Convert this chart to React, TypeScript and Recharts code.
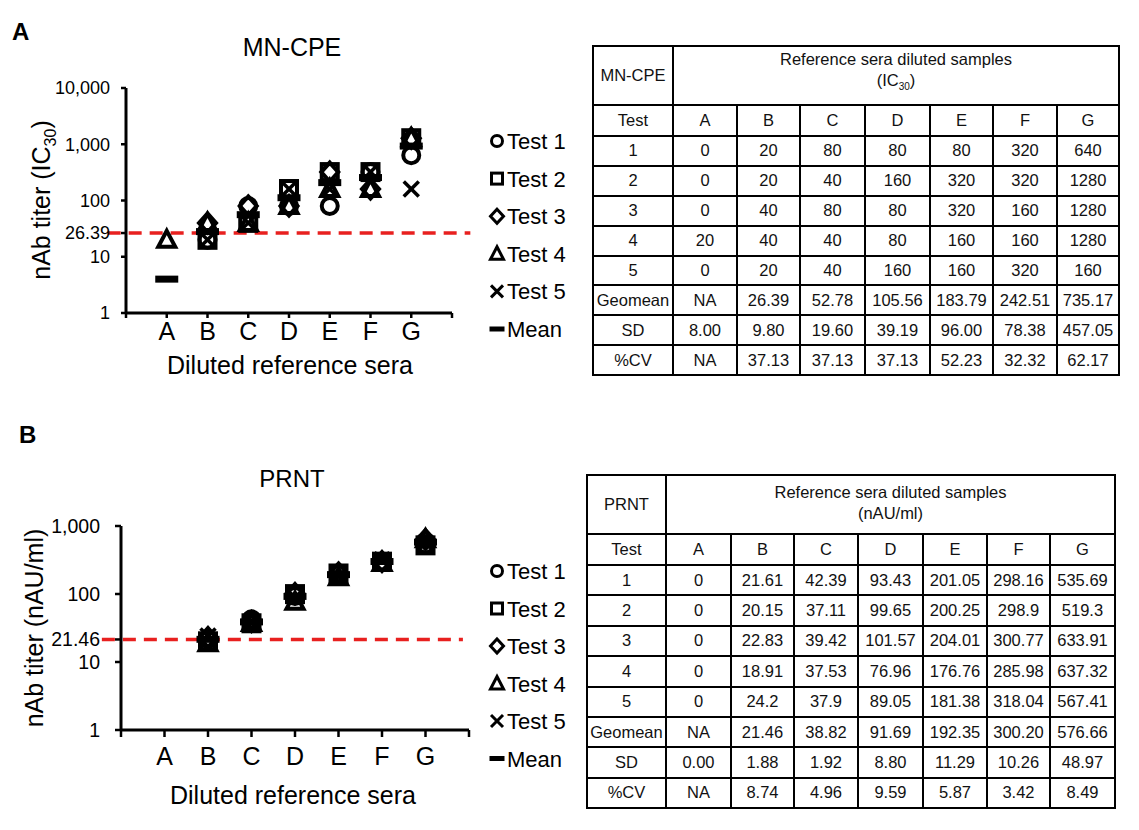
import React from 'react';
import { ScatterChart, Scatter, XAxis, YAxis, ReferenceLine } from 'recharts';

const categories = ['A', 'B', 'C', 'D', 'E', 'F', 'G'];
const legendNames = ['Test 1', 'Test 2', 'Test 3', 'Test 4', 'Test 5', 'Mean'];
const statNames = ['Geomean', 'SD', '%CV'];

// MN-CPE (IC30)
const mnTest1 = [0, 20, 80, 80, 80, 320, 640];
const mnTest2 = [0, 20, 40, 160, 320, 320, 1280];
const mnTest3 = [0, 40, 80, 80, 320, 160, 1280];
const mnTest4 = [20, 40, 40, 80, 160, 160, 1280];
const mnTest5 = [0, 20, 40, 160, 160, 320, 160];
const mnMean = [4, 28, 56, 112, 208, 256, 928];
const mnGeomean = ['NA', '26.39', '52.78', '105.56', '183.79', '242.51', '735.17'];
const mnSD = ['8.00', '9.80', '19.60', '39.19', '96.00', '78.38', '457.05'];
const mnCV = ['NA', '37.13', '37.13', '37.13', '52.23', '32.32', '62.17'];
const mnCutoff = 26.39;
const mnYTicks = [1, 10, 26.39, 100, 1000, 10000];

// PRNT (nAU/ml)
const prTest1 = [0, 21.61, 42.39, 93.43, 201.05, 298.16, 535.69];
const prTest2 = [0, 20.15, 37.11, 99.65, 200.25, 298.9, 519.3];
const prTest3 = [0, 22.83, 39.42, 101.57, 204.01, 300.77, 633.91];
const prTest4 = [0, 18.91, 37.53, 76.96, 176.76, 285.98, 637.32];
const prTest5 = [0, 24.2, 37.9, 89.05, 181.38, 318.04, 567.41];
const prMean = [0, 21.54, 38.87, 92.13, 192.69, 300.37, 578.73];
const prGeomean = ['NA', '21.46', '38.82', '91.69', '192.35', '300.20', '576.66'];
const prSD = ['0.00', '1.88', '1.92', '8.80', '11.29', '10.26', '48.97'];
const prCV = ['NA', '8.74', '4.96', '9.59', '5.87', '3.42', '8.49'];
const prCutoff = 21.46;
const prYTicks = [1, 10, 21.46, 100, 1000];

const FONT = '"Liberation Sans", Arial, Helvetica, sans-serif';
const RED = '#e8201f';

const toPoints = (vals: number[]) =>
  vals.map((v, i) => ({ x: i + 1, y: v })).filter((p) => p.y > 0);

const SW = 4;
const ShapeCircle = (p: any) => <circle cx={p.cx} cy={p.cy} r={8} fill="none" stroke="#000" strokeWidth={SW} />;
const ShapeSquare = (p: any) => <rect x={p.cx - 8} y={p.cy - 8} width={16} height={16} fill="none" stroke="#000" strokeWidth={SW} />;
const ShapeDiamond = (p: any) => (
  <polygon points={`${p.cx},${p.cy - 9.5} ${p.cx + 8.5},${p.cy} ${p.cx},${p.cy + 9.5} ${p.cx - 8.5},${p.cy}`} fill="none" stroke="#000" strokeWidth={SW} />
);
const ShapeTriangle = (p: any) => (
  <polygon points={`${p.cx},${p.cy - 9} ${p.cx + 8.5},${p.cy + 7} ${p.cx - 8.5},${p.cy + 7}`} fill="none" stroke="#000" strokeWidth={SW} strokeLinejoin="miter" />
);
const ShapeCross = (p: any) => (
  <g stroke="#000" strokeWidth={3.5}>
    <line x1={p.cx - 7.5} y1={p.cy - 7.5} x2={p.cx + 7.5} y2={p.cy + 7.5} />
    <line x1={p.cx - 7.5} y1={p.cy + 7.5} x2={p.cx + 7.5} y2={p.cy - 7.5} />
  </g>
);
const ShapeMean = (p: any) => <rect x={p.cx - 11.5} y={p.cy - 3.5} width={23} height={7} fill="#000" />;

const shapes = [ShapeCircle, ShapeSquare, ShapeDiamond, ShapeTriangle, ShapeCross, ShapeMean];

const fmtY = (v: number) => (v >= 1000 ? v.toLocaleString('en-US') : String(v));

type PanelProps = {
  top: number;
  series: number[][];
  yDomain: [number, number];
  yTicks: number[];
  cutoff: number;
  margin: { top: number; right: number; bottom: number; left: number };
  xTickSize: number;
  xTickMargin: number;
  yTickSize: number;
  yTickMargin: number;
  yFont: number;
  lineFrom: number;
  lineTo: number;
};

function Panel(props: PanelProps) {
  const { top, series, yDomain, yTicks, cutoff, margin } = props;
  return (
    <div style={{ position: 'absolute', left: 0, top }}>
      <ScatterChart width={560} height={400} margin={margin}>
        <XAxis
          type="number"
          dataKey="x"
          domain={[0, 8]}
          ticks={[0, 1, 2, 3, 4, 5, 6, 7, 8]}
          interval={0}
          allowDataOverflow
          tickFormatter={(v: number) => categories[v - 1] ?? ''}
          axisLine={{ stroke: '#000', strokeWidth: 3 }}
          tickLine={{ stroke: '#000', strokeWidth: 2.5 }}
          tickSize={props.xTickSize}
          tickMargin={props.xTickMargin}
          tick={{ fill: '#000', fontSize: 25 }}
          height={45}
        />
        <YAxis
          type="number"
          dataKey="y"
          scale="log"
          domain={yDomain}
          ticks={yTicks}
          interval={0}
          allowDataOverflow
          tickFormatter={fmtY}
          axisLine={{ stroke: '#000', strokeWidth: 3 }}
          tickLine={{ stroke: '#000', strokeWidth: 2.5 }}
          tickSize={props.yTickSize}
          tickMargin={props.yTickMargin}
          tick={{ fill: '#000', fontSize: props.yFont }}
          width={80}
        />
        {series.map((vals, i) => (
          <Scatter
            key={legendNames[i]}
            name={legendNames[i]}
            data={toPoints(vals)}
            shape={shapes[i]}
            isAnimationActive={false}
          />
        ))}
        <ReferenceLine
          segment={[
            { x: props.lineFrom, y: cutoff },
            { x: props.lineTo, y: cutoff },
          ]}
          stroke={RED}
          strokeWidth={3.5}
          strokeDasharray="13 8"
          ifOverflow="visible"
        />
      </ScatterChart>
    </div>
  );
}

function LegendItem({ kind, x, y, label }: { kind: number; x: number; y: number; label: string }) {
  const sw = 3;
  let mark: React.ReactNode = null;
  if (kind === 0) mark = <circle cx={x} cy={y} r={5.5} fill="none" stroke="#000" strokeWidth={sw} />;
  if (kind === 1) mark = <rect x={x - 5.5} y={y - 5.5} width={11} height={11} fill="none" stroke="#000" strokeWidth={sw} />;
  if (kind === 2)
    mark = <polygon points={`${x},${y - 7} ${x + 6.5},${y} ${x},${y + 7} ${x - 6.5},${y}`} fill="none" stroke="#000" strokeWidth={sw} />;
  if (kind === 3)
    mark = <polygon points={`${x},${y - 7} ${x + 6.5},${y + 5.5} ${x - 6.5},${y + 5.5}`} fill="none" stroke="#000" strokeWidth={sw} />;
  if (kind === 4)
    mark = (
      <g stroke="#000" strokeWidth={sw}>
        <line x1={x - 6} y1={y - 6} x2={x + 6} y2={y + 6} />
        <line x1={x - 6} y1={y + 6} x2={x + 6} y2={y - 6} />
      </g>
    );
  if (kind === 5) mark = <rect x={x - 7.5} y={y - 2.5} width={15} height={5} fill="#000" />;
  return (
    <g>
      {mark}
      <text x={x + 10} y={y + 8} fontSize={22} fill="#000">
        {label}
      </text>
    </g>
  );
}

function Legend({ x, y0, step }: { x: number; y0: number; step: number }) {
  return (
    <g>
      {legendNames.map((n, i) => (
        <LegendItem key={n} kind={i} x={x} y={y0 + i * step} label={n} />
      ))}
    </g>
  );
}

type TableProps = {
  left: number;
  top: number;
  cols: number[];
  headerH: number;
  testH: number;
  rowH: number;
  name: string;
  unit: React.ReactNode;
  tests: number[][];
  stats: string[][];
};

function DataTable(p: TableProps) {
  const cell: React.CSSProperties = {
    borderRight: '2px solid #000',
    borderBottom: '2px solid #000',
    boxSizing: 'border-box',
    display: 'flex',
    alignItems: 'center',
    justifyContent: 'center',
    fontSize: 16.5,
    color: '#111',
    whiteSpace: 'nowrap',
    overflow: 'visible',
  };
  const rows: React.ReactNode[] = [];
  rows.push(
    <div key="h0" style={{ ...cell }}>{p.name}</div>,
    <div key="h1" style={{ ...cell, gridColumn: '2 / span 7', flexDirection: 'column', lineHeight: '21px', paddingBottom: 4 }}>
      <div>Reference sera diluted samples</div>
      <div>{p.unit}</div>
    </div>
  );
  rows.push(<div key="t" style={cell}>Test</div>);
  categories.forEach((c) => rows.push(<div key={'c' + c} style={cell}>{c}</div>));
  p.tests.forEach((vals, r) => {
    rows.push(<div key={'r' + r} style={cell}>{r + 1}</div>);
    vals.forEach((v, j) => rows.push(<div key={'r' + r + 'v' + j} style={cell}>{String(v)}</div>));
  });
  p.stats.forEach((vals, r) => {
    rows.push(<div key={'s' + r} style={cell}>{statNames[r]}</div>);
    vals.forEach((v, j) => rows.push(<div key={'s' + r + 'v' + j} style={cell}>{v}</div>));
  });
  return (
    <div
      style={{
        position: 'absolute',
        left: p.left - 1,
        top: p.top - 1,
        borderLeft: '2px solid #000',
        borderTop: '2px solid #000',
        display: 'grid',
        gridTemplateColumns: p.cols.map((c) => c + 'px').join(' '),
        gridTemplateRows: `${p.headerH}px ${p.testH}px repeat(8, ${p.rowH}px)`,
        background: '#fff',
      }}
    >
      {rows}
    </div>
  );
}

export default function App() {
  return (
    <div
      style={{
        position: 'absolute',
        left: 0,
        top: 0,
        width: 1139,
        height: 830,
        background: '#fff',
        fontFamily: FONT,
        overflow: 'hidden',
      }}
    >
      <Panel
        top={0}
        series={[mnTest1, mnTest2, mnTest3, mnTest4, mnTest5, mnMean]}
        yDomain={[1, 10000]}
        yTicks={mnYTicks}
        cutoff={mnCutoff}
        margin={{ top: 88, right: 108, bottom: 42, left: 46 }}
        xTickSize={5}
        xTickMargin={4}
        yTickSize={5}
        yTickMargin={11}
        yFont={18}
        lineFrom={-0.45}
        lineTo={8.45}
      />
      <Panel
        top={420}
        series={[prTest1, prTest2, prTest3, prTest4, prTest5, prMean]}
        yDomain={[1, 1000]}
        yTicks={prYTicks}
        cutoff={prCutoff}
        margin={{ top: 106, right: 91, bottom: 45, left: 41 }}
        xTickSize={7}
        xTickMargin={10}
        yTickSize={6}
        yTickMargin={15}
        yFont={19.5}
        lineFrom={-0.44}
        lineTo={7.86}
      />
      <svg
        width={1139}
        height={830}
        style={{ position: 'absolute', left: 0, top: 0, pointerEvents: 'none' }}
        fontFamily={FONT}
      >
        <text x={12} y={40} fontSize={24} fontWeight="bold" fill="#000">A</text>
        <text x={292} y={56} fontSize={25} textAnchor="middle" fill="#000">MN-CPE</text>
        <text transform="translate(50,200) rotate(-90)" fontSize={25} textAnchor="middle" fill="#000">
          nAb titer (IC<tspan fontSize={16} dy={6}>30</tspan><tspan dy={-6}>)</tspan>
        </text>
        <text x={290} y={374} fontSize={25} textAnchor="middle" fill="#000">Diluted reference sera</text>
        <Legend x={497} y0={141} step={37.6} />

        <text x={19} y={443} fontSize={24} fontWeight="bold" fill="#000">B</text>
        <text x={292} y={487} fontSize={24} textAnchor="middle" fill="#000">PRNT</text>
        <text transform="translate(43,628) rotate(-90)" fontSize={25} textAnchor="middle" fill="#000">
          nAb titer (nAU/ml)
        </text>
        <text x={293} y={804} fontSize={25} textAnchor="middle" fill="#000">Diluted reference sera</text>
        <Legend x={497} y0={571} step={37.5} />
      </svg>
      <DataTable
        left={593}
        top={46}
        cols={[80, 64, 63, 65, 65, 63, 64, 62]}
        headerH={59}
        testH={31}
        rowH={29.9}
        name="MN-CPE"
        unit={<span>(IC<sub style={{ fontSize: 10 }}>30</sub>)</span>}
        tests={[mnTest1, mnTest2, mnTest3, mnTest4, mnTest5]}
        stats={[mnGeomean, mnSD, mnCV]}
      />
      <DataTable
        left={587}
        top={475}
        cols={[79, 65, 63, 64, 65, 64, 63, 65]}
        headerH={59}
        testH={31}
        rowH={30.4}
        name="PRNT"
        unit="(nAU/ml)"
        tests={[prTest1, prTest2, prTest3, prTest4, prTest5]}
        stats={[prGeomean, prSD, prCV]}
      />
    </div>
  );
}
